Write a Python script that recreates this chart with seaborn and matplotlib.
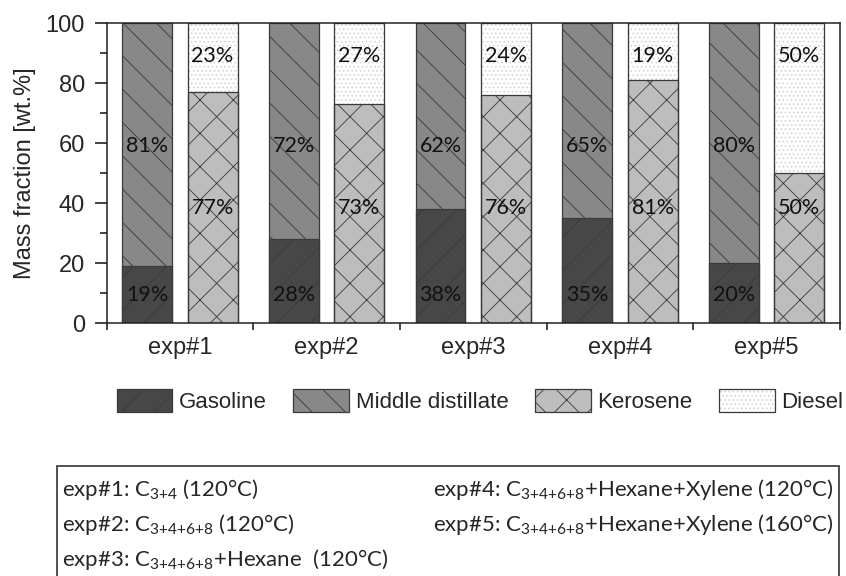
import matplotlib
matplotlib.use("Agg")
import matplotlib.pyplot as plt
import seaborn as sns
import pandas as pd
from matplotlib.patches import Patch, Rectangle

experiments = ["exp#1", "exp#2", "exp#3", "exp#4", "exp#5"]
gasoline = [19, 28, 38, 35, 20]
middle_distillate = [81, 72, 62, 65, 80]
kerosene = [77, 73, 76, 81, 50]
diesel = [23, 27, 24, 19, 50]

fractions = ["Gasoline", "Middle distillate", "Kerosene", "Diesel"]
label_heights = [9.5, 59, 38.5, 89]

notes_left = [
    r"exp#1: C$_{3{+}4}$ (120°C)",
    r"exp#2: C$_{3{+}4{+}6{+}8}$ (120°C)",
    r"exp#3: C$_{3{+}4{+}6{+}8}$+Hexane  (120°C)",
]
notes_right = [
    r"exp#4: C$_{3{+}4{+}6{+}8}$+Hexane+Xylene (120°C)",
    r"exp#5: C$_{3{+}4{+}6{+}8}$+Hexane+Xylene (160°C)",
]

colors = ["#474747", "#888888", "#bdbdbd", "#ffffff"]
hatches = ["/", "\\", "x", "...."]
edge = "#3a3a3a"
dots = "#cfcfcf"

sns.set_style("white")
plt.rcParams["font.family"] = ["Liberation Sans", "DejaVu Sans"]
plt.rcParams["hatch.linewidth"] = 0.6
plt.rcParams["mathtext.fontset"] = "custom"
plt.rcParams["mathtext.rm"] = "Lato"
plt.rcParams["mathtext.it"] = "Lato"

# stacked bars: draw totals first, bottoms on top
top_df = pd.DataFrame({
    "exp": experiments * 2,
    "bar": ["A"] * 5 + ["B"] * 5,
    "value": [g + m for g, m in zip(gasoline, middle_distillate)]
             + [k + d for k, d in zip(kerosene, diesel)],
})
bottom_df = pd.DataFrame({
    "exp": experiments * 2,
    "bar": ["A"] * 5 + ["B"] * 5,
    "value": gasoline + kerosene,
})

fig = plt.figure(figsize=(8.46, 5.76), dpi=100)
ax = fig.add_axes([0.1259, 0.4392, 0.8670, 0.5208])

common = dict(x="exp", y="value", hue="bar", width=0.892, gap=0.238,
              saturation=1, edgecolor=edge, linewidth=0.9, legend=False, ax=ax)
sns.barplot(data=top_df, palette=[colors[1], colors[3]], **common)
sns.barplot(data=bottom_df, palette=[colors[0], colors[2]], **common)

md_bars, diesel_bars, gas_bars, ker_bars = ax.containers
for cont, h in zip([gas_bars, md_bars, ker_bars], hatches[:3]):
    for p in cont:
        p.set_hatch(h)

for p in diesel_bars:
    p.set_hatch(hatches[3])
    p.set_edgecolor(dots)
    ax.add_patch(Rectangle(p.get_xy(), p.get_width(), p.get_height(),
                           fill=False, edgecolor=edge, linewidth=0.9, zorder=p.get_zorder()))

# percentage labels at fixed heights
values = [gasoline, middle_distillate, kerosene, diesel]
for cont, vals, yh in zip([gas_bars, md_bars, ker_bars, diesel_bars], values, label_heights):
    for p, v in zip(cont, vals):
        ax.text(p.get_x() + p.get_width() / 2, yh, f"{v}%", ha="center", va="center",
                fontsize=15.5, family="Lato", color="#111111", zorder=10)

ax.set_ylim(0, 100)
ax.set_xlim(-0.5, len(experiments) - 0.5)
ax.set_yticks([0, 20, 40, 60, 80, 100])
ax.set_yticks([10, 30, 50, 70, 90], minor=True)
ax.set_xticks(range(len(experiments)))
ax.set_xticks([i - 0.5 for i in range(len(experiments) + 1)], minor=True)
ax.set_xlabel("")
ax.set_ylabel("Mass fraction [wt.%]", fontsize=17, labelpad=7)

ax.tick_params(axis="y", which="major", direction="out", length=8.6, width=1.1,
               labelsize=17, pad=7, left=True, color="#111111")
ax.tick_params(axis="y", which="minor", direction="out", length=5, width=1.1,
               left=True, color="#111111")
ax.tick_params(axis="x", which="major", length=0, labelsize=17, pad=10)
ax.tick_params(axis="x", which="minor", direction="out", length=5, width=1.1,
               bottom=True, color="#111111")

for s in ax.spines.values():
    s.set_visible(True)
    s.set_color("#222222")
    s.set_linewidth(1.1)

handles = [Patch(facecolor=c, edgecolor=edge, hatch=h, linewidth=0.9)
           for c, h in zip(colors[:3], hatches[:3])]
handles.append((Patch(facecolor=colors[3], edgecolor=dots, hatch=hatches[3], linewidth=0),
                Patch(fill=False, edgecolor=edge, linewidth=0.9)))
fig.legend(handles=handles, labels=fractions, loc="center", bbox_to_anchor=(0.5674, 0.304),
           ncol=4, frameon=False, fontsize=16, handlelength=2.5, handleheight=1.25,
           handletextpad=0.3, columnspacing=1.2, borderaxespad=0, borderpad=0)

# experiment description box
fig.patches.append(Rectangle((0.0674, -0.1), 0.9243, 0.291, transform=fig.transFigure,
                             fill=False, edgecolor="#333333", linewidth=1.2, figure=fig))
for i, t in enumerate(notes_left):
    fig.text(0.0733, 0.151 - i * 0.0608, t, fontsize=16, family="Lato", va="center")
for i, t in enumerate(notes_right):
    fig.text(0.512, 0.151 - i * 0.0608, t, fontsize=16, family="Lato", va="center")

fig.savefig("out.png", dpi=100)
